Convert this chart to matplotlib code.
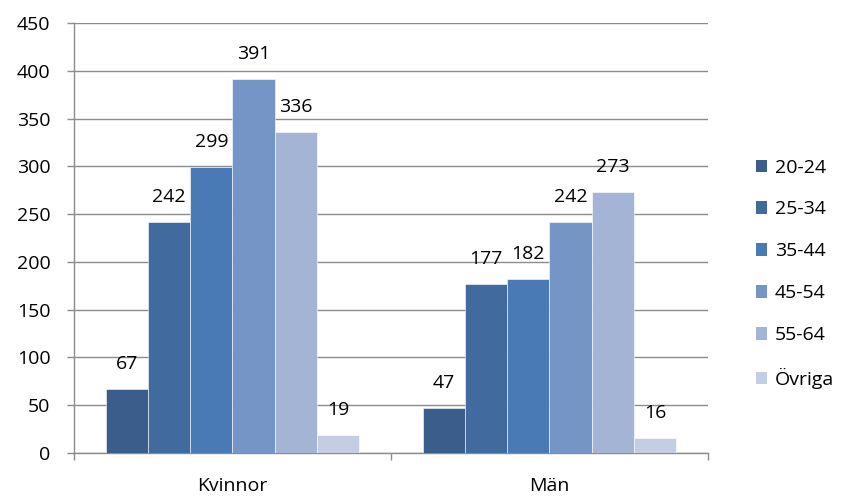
import matplotlib
matplotlib.use("Agg")
import matplotlib.pyplot as plt
import numpy as np
from matplotlib.patches import Patch

categories = ["Kvinnor", "Män"]
age_groups = ["20-24", "25-34", "35-44", "45-54", "55-64", "Övriga"]
kvinnor = [67, 242, 299, 391, 336, 19]
man = [47, 177, 182, 242, 273, 16]
colors = ["#3a5d8b", "#416b9f", "#4a7ab5", "#7595c6", "#a3b4d4", "#c3cee3"]

FONT = "Open Sans"
GRID = "#8c8c8c"
FS = 14

fig = plt.figure(figsize=(8.42, 4.97), dpi=100)
ax = fig.add_axes([74 / 842, 44 / 497, 634 / 842, 430 / 497])

values = np.array([kvinnor, man])
x = np.arange(len(categories))
n = len(age_groups)
bw = 0.8 / n
for i, grp in enumerate(age_groups):
    pos = x - 0.4 + bw * (i + 0.5)
    bars = ax.bar(pos, values[:, i], width=bw, color=colors[i], zorder=3,
                  edgecolor="white", linewidth=0.4)
    for b, v in zip(bars, values[:, i]):
        ax.annotate(f"{v}", xy=(b.get_x() + b.get_width() / 2, v),
                    xytext=(0, 14.5), textcoords="offset points",
                    ha="center", va="baseline", fontsize=FS, family=FONT, zorder=4)

ax.set_xlim(-0.5, 1.5)
ax.set_ylim(0, 450)
ax.set_yticks(np.arange(0, 451, 50))
ax.yaxis.grid(True, color=GRID, linewidth=1.0, zorder=0)
ax.set_xticks(x)
ax.set_xticklabels(categories, fontsize=FS, family=FONT)
ax.tick_params(axis="x", length=0, pad=17)
ax.set_xticks([-0.5, 0.5, 1.5], minor=True)
ax.tick_params(axis="x", which="minor", length=5, color=GRID, width=1)
ax.tick_params(axis="y", length=5, color=GRID, width=1, labelsize=FS, pad=12)
for lbl in ax.get_yticklabels():
    lbl.set_family(FONT)
for s in ["top", "right"]:
    ax.spines[s].set_visible(False)
for s in ["left", "bottom"]:
    ax.spines[s].set_color(GRID)
    ax.spines[s].set_linewidth(1)

handles = [Patch(facecolor=c, edgecolor="none") for c in colors]
fig.legend(handles, age_groups, loc="center left", bbox_to_anchor=(738 / 842, 0.449),
           frameon=False, prop={"family": FONT, "size": FS},
           handlelength=0.6, handleheight=0.6, handletextpad=0.4,
           labelspacing=1.23)

fig.savefig("out.png", dpi=100)
